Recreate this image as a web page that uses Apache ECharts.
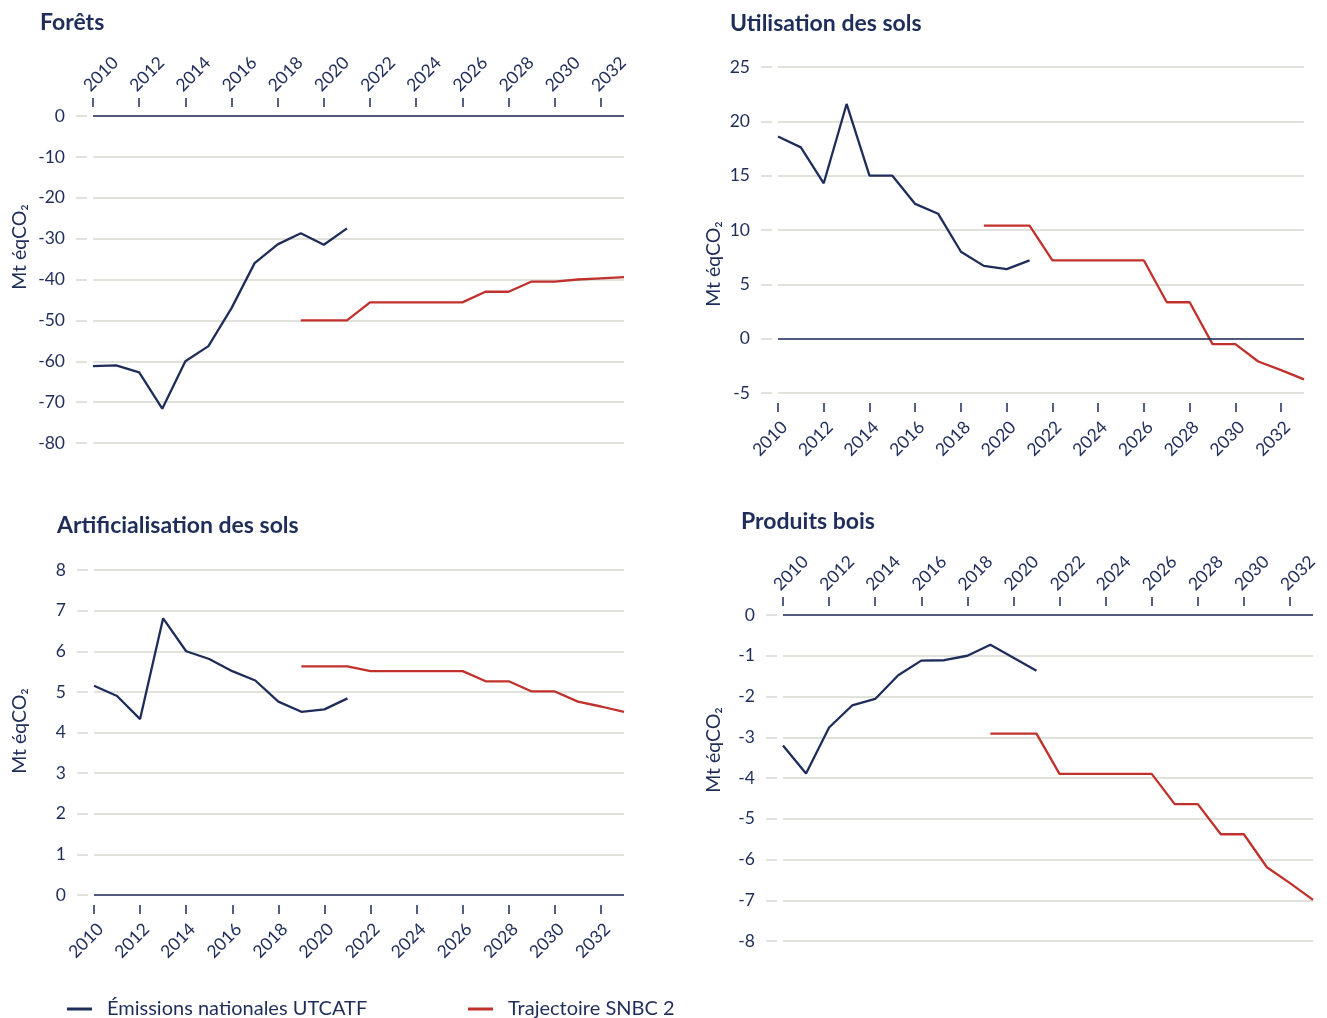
<!DOCTYPE html>
<html>
<head>
<meta charset="utf-8">
<script src="https://cdn.jsdelivr.net/npm/echarts@6/dist/echarts.min.js"></script>
<style>
  html, body { margin: 0; padding: 0; background: #fff; }
  #chart { width: 1327px; height: 1018px; }
</style>
</head>
<body>
<div id="chart"></div>
<script>
const years = ['2010', '2011', '2012', '2013', '2014', '2015', '2016', '2017', '2018', '2019', '2020', '2021',
  '2022', '2023', '2024', '2025', '2026', '2027', '2028', '2029', '2030', '2031', '2032', '2033']

// émissions nationales UTCATF, 2010 -> 2021
const foretsEmissions = [-61.2, -61.0, -62.7, -71.6, -60.0, -56.3, -47.0, -36.0, -31.4, -28.7, -31.5, -27.5]
const solsEmissions = [18.6, 17.6, 14.3, 21.6, 15.0, 15.0, 12.4, 11.5, 8.0, 6.7, 6.4, 7.2]
const artifEmissions = [5.15, 4.9, 4.33, 6.81, 6.0, 5.81, 5.51, 5.28, 4.76, 4.51, 4.57, 4.84]
const boisEmissions = [-3.2, -3.89, -2.76, -2.22, -2.06, -1.48, -1.12, -1.11, -1.0, -0.73, -1.05, -1.37]

// trajectoire SNBC 2, 2019 -> 2033
const foretsSnbc = [-50, -50, -50, -45.6, -45.6, -45.6, -45.6, -45.6, -43, -43, -40.5, -40.5, -40, -39.7, -39.4]
const solsSnbc = [10.4, 10.4, 10.4, 7.2, 7.2, 7.2, 7.2, 7.2, 3.35, 3.35, -0.5, -0.5, -2.1, -2.9, -3.75]
const artifSnbc = [5.63, 5.63, 5.63, 5.51, 5.51, 5.51, 5.51, 5.51, 5.26, 5.26, 5.01, 5.01, 4.76, 4.64, 4.51]
const boisSnbc = [-2.91, -2.91, -2.91, -3.9, -3.9, -3.9, -3.9, -3.9, -4.64, -4.64, -5.38, -5.38, -6.19, -6.58, -6.99]

const titles = ['Forêts', 'Utilisation des sols', 'Artificialisation des sols', 'Produits bois']
const unit = 'Mt éqCO₂'
const emName = 'Émissions nationales UTCATF'
const snbcName = 'Trajectoire SNBC 2'

const navy = '#1f2d5a'
const red = '#c1312c'
const grey = '#d9d9d1'
const font = 'Lato'

// la trajectoire commence en 2019
const snbcStart = years.indexOf('2019')
function padSnbc(values) {
  const out = []
  for (let i = 0; i < snbcStart; i++) out.push(null)
  return out.concat(values)
}

function xAx(gridIndex, position) {
  const top = position === 'top'
  return {
    type: 'category',
    gridIndex: gridIndex,
    position: position,
    offset: top ? 9 : 10,
    data: years,
    boundaryGap: false,
    axisLine: { show: false, onZero: false },
    axisTick: { show: true, interval: 1, length: 9, lineStyle: { color: navy, width: 1.5 } },
    axisLabel: {
      interval: 1,
      rotate: top ? -45 : 45,
      margin: top ? 12 : 15,
      verticalAlign: top ? 'bottom' : 'top',
      color: navy,
      fontSize: 17.5,
      fontFamily: font,
    },
    splitLine: { show: false },
  }
}

function yAx(gridIndex, min, max, interval) {
  return {
    type: 'value',
    gridIndex: gridIndex,
    min: min,
    max: max,
    interval: interval,
    offset: 6,
    axisLine: { show: false, onZero: false },
    axisTick: { show: true, length: 11, lineStyle: { color: grey, width: 1.5 } },
    axisLabel: { margin: 22, color: navy, fontSize: 17.5, fontFamily: font },
    splitLine: { lineStyle: { color: grey, width: 1.5 } },
  }
}

function series(idx, emissions, snbc) {
  return [
    {
      name: emName,
      type: 'line',
      xAxisIndex: idx,
      yAxisIndex: idx,
      data: emissions,
      symbol: 'none',
      lineStyle: { color: navy, width: 2.3 },
      itemStyle: { color: navy },
      markLine: {
        silent: true,
        symbol: 'none',
        label: { show: false },
        lineStyle: { color: navy, width: 1.5, type: 'solid' },
        data: [{ yAxis: 0 }],
      },
      z: 3,
    },
    {
      name: snbcName,
      type: 'line',
      xAxisIndex: idx,
      yAxisIndex: idx,
      data: padSnbc(snbc),
      symbol: 'none',
      lineStyle: { color: red, width: 2.3 },
      itemStyle: { color: red },
      z: 3,
    },
  ]
}

const titlePos = [[40, 11], [730, 12], [57, 514], [741, 510]]
const unitPos = [[20, 247], [714, 264], [20, 731], [714, 750]]

function legendItem(name, left) {
  return {
    data: [name],
    left: left,
    top: 999,
    icon: 'rect',
    itemWidth: 25,
    itemHeight: 3,
    padding: 0,
    textStyle: { fontSize: 20, color: navy, fontFamily: font, padding: [0, 0, 0, 10] },
  }
}

const chart = echarts.init(document.getElementById('chart'))
const option = {
  animation: false,
  backgroundColor: '#fff',
  title: titles.map((t, i) => ({
    text: t,
    left: titlePos[i][0],
    top: titlePos[i][1],
    padding: 0,
    textStyle: { fontSize: 23, fontWeight: 'bold', color: navy, fontFamily: font },
  })),
  legend: [legendItem(emName, 67), legendItem(snbcName, 468)],
  graphic: unitPos.map(p => ({
    type: 'text',
    x: p[0],
    y: p[1],
    rotation: Math.PI / 2,
    style: { text: unit, fill: navy, fontSize: 19.5, fontFamily: font, align: 'center', verticalAlign: 'middle' },
  })),
  grid: [
    { left: 93, top: 116, width: 531, height: 327, outerBoundsMode: 'none' },
    { left: 778, top: 67, width: 526, height: 326, outerBoundsMode: 'none' },
    { left: 94, top: 570, width: 530, height: 325, outerBoundsMode: 'none' },
    { left: 783, top: 615, width: 530, height: 326, outerBoundsMode: 'none' },
  ],
  xAxis: [xAx(0, 'top'), xAx(1, 'bottom'), xAx(2, 'bottom'), xAx(3, 'top')],
  yAxis: [yAx(0, -80, 0, 10), yAx(1, -5, 25, 5), yAx(2, 0, 8, 1), yAx(3, -8, 0, 1)],
  series: [].concat(
    series(0, foretsEmissions, foretsSnbc),
    series(1, solsEmissions, solsSnbc),
    series(2, artifEmissions, artifSnbc),
    series(3, boisEmissions, boisSnbc)
  ),
}
chart.setOption(option)
</script>
</body>
</html>
